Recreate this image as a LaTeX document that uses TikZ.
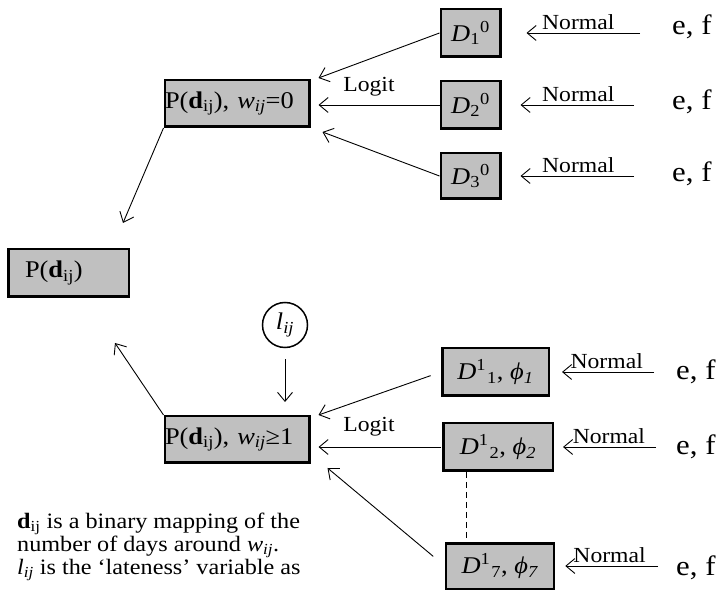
\documentclass[tikz,border=0pt]{standalone}
\usepackage{fontspec}
\setmainfont[FakeStretch=1.1]{Liberation Serif}
\usetikzlibrary{arrows.meta}
\definecolor{boxgray}{RGB}{192,192,192}
\newcommand{\Pdij}{P(\textbf{d}\textsubscript{ij})}
\newcommand{\wij}{\textit{w}\textsubscript{\textit{ij}}}
\tikzset{
  dbox/.style={draw, line width=2.5pt, fill=boxgray, inner sep=0pt,
    font=\fontsize{24}{26}\selectfont},
  arr/.style={-{Straight Barb[length=9pt,width=15pt]}, line width=0.9pt},
  lbl/.style={font=\fontsize{21.5}{24}\selectfont},
  efnode/.style={font=\fontsize{28}{30}\selectfont, anchor=base west, inner sep=0pt}
}
\begin{document}
\begin{tikzpicture}[x=1pt,y=-1pt]

        \useasboundingbox (0,0) rectangle (718,593);

        \begin{scope}[every node/.style={dbox}]
          \node[minimum width=59.5pt, minimum height=47.5pt] (d10) at (470.5,33)  {\textit{D}\textsubscript{1}\textsuperscript{0}};
          \node[minimum width=59.5pt, minimum height=47.5pt] (d20) at (470.5,105) {\textit{D}\textsubscript{2}\textsuperscript{0}};
          \node[minimum width=59.5pt, minimum height=45.5pt] (d30) at (470.5,176) {\textit{D}\textsubscript{3}\textsuperscript{0}};
          \node[minimum width=144.5pt, minimum height=46.5pt, text width=144pt, align=left] (pw0) at (237,103.5) {\Pdij, \wij=0};
          \node[minimum width=120.5pt, minimum height=47.5pt, text width=87pt, align=left] (pd) at (68.5,273) {\Pdij};
          \node[minimum width=144.5pt, minimum height=46.5pt, text width=144pt, align=left] (pw1) at (237,439.5) {\Pdij, \wij≥1};
          \node[minimum width=106.5pt, minimum height=47.5pt] (d11) at (495.5,372) {\textit{D}\textsuperscript{1}\kern1pt\textsubscript{1}, \textit{ϕ}\textsubscript{\textit{1}}};
          \node[minimum width=109.5pt, minimum height=47.5pt] (d12) at (498,447)   {\textit{D}\textsuperscript{1}\kern1pt\textsubscript{2}, \textit{ϕ}\textsubscript{\textit{2}}};
          \node[minimum width=108pt, minimum height=45.5pt] (d17) at (500,566)     {\textit{D}\textsuperscript{1}\kern1pt\textsubscript{7}, \textit{ϕ}\textsubscript{\textit{7}}};
        \end{scope}

        \node[draw, circle, line width=1.5pt, minimum size=45pt, inner sep=0pt,
          font=\fontsize{24}{26}\selectfont] (lij) at (285,325) {\textit{l}\textsubscript{\textit{ij}}};

        \begin{scope}[every node/.style={efnode}]
          \node (ef1) at (672,35)  {e, f};
          \node (ef2) at (672,110) {e, f};
          \node (ef3) at (672,182) {e, f};
          \node (ef4) at (676,380) {e, f};
          \node (ef5) at (676,455) {e, f};
          \node (ef6) at (676,575) {e, f};
        \end{scope}

        \node[lbl, anchor=base] (logit0) at (369,92)  {Logit};
        \node[lbl, anchor=base] (logit1) at (369,432) {Logit};

        \begin{scope}[every edge/.style={draw, arr}, every node/.style={lbl, above, inner sep=3pt, pos=0.55}]
          \path (d10.east -| ef1.west) edge[shorten <=32pt, shorten >=25pt] node {Normal} (d10.east);
          \path (d20.east -| ef2.west) edge[shorten <=38pt, shorten >=19pt] node {Normal} (d20.east);
          \path (d30.east -| ef3.west) edge[shorten <=38pt, shorten >=19pt] node {Normal} (d30.east);
          \path (d11.east -| ef4.west) edge[shorten <=22pt, shorten >=12pt] node {Normal} (d11.east);
          \path (d12.east -| ef5.west) edge[shorten <=20pt, shorten >=9pt]  node {Normal} (d12.east);
          \path (d17.east -| ef6.west) edge[shorten <=18pt, shorten >=10pt] node {Normal} (d17.east);
        \end{scope}

        \begin{scope}[every edge/.style={draw, arr}]
          \path (d10.west) edge ([shift={(8,-1)}]pw0.north east);
          \path (d20.west) edge[shorten >=8pt] (d20.west -| pw0.east);
          \path (d30.west) edge ([shift={(12,4)}]pw0.south east);
          \path (d11.west) edge[shorten <=11pt] ([shift={(8,0)}]pw1.north east);
          \path (d12.west) edge[shorten <=1pt, shorten >=8pt] (d12.west -| pw1.east);
          \path (d17.west) edge[shorten <=15pt] ([shift={(17,4)}]pw1.south east);
          \path (pw0.south west) edge ([shift={(-7,-25)}]pd.north east);
          \path (pw1.north west) edge ([shift={(-15,45)}]pd.south east);
          \path (lij.south) edge[shorten <=11pt, shorten >=13pt] (lij.south |- pw1.north);
        \end{scope}

        \draw[line width=1pt, dash pattern=on 6pt off 4pt]
          ([xshift=24pt]d12.south west) -- ([xshift=24pt]d12.south west |- d17.north);

        \node[anchor=base west, inner sep=0pt, align=left, font=\fontsize{22}{21}\selectfont] (note) at (17,574)
          {\textbf{d}\textsubscript{ij} is a binary mapping of the\\
           number of days around \wij.\\
           \textit{l}\textsubscript{\textit{ij}} is the ‘lateness’ variable as};

      \end{tikzpicture}
\end{document}
